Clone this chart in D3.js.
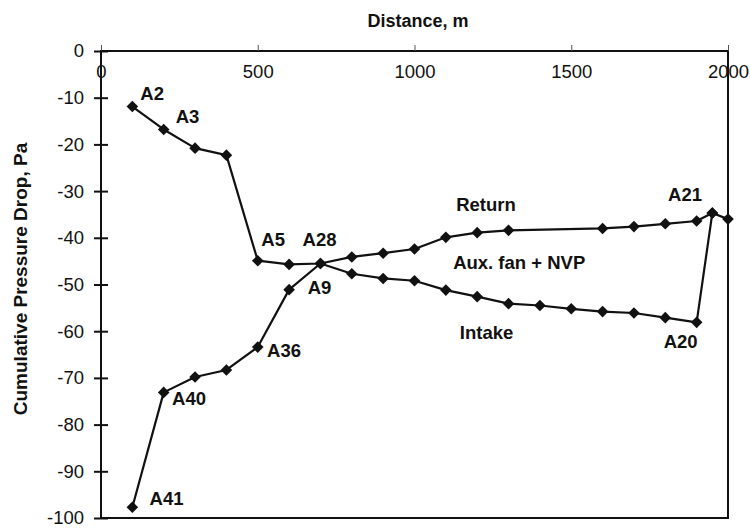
<!DOCTYPE html>
<html>
<head>
<meta charset="utf-8">
<script src="https://cdn.jsdelivr.net/npm/d3@7"></script>
<style>
  body { margin: 0; background: #fff; }
  svg { display: block; font-family: "Liberation Sans", Arial, sans-serif; }
</style>
</head>
<body>
<div class="chart"></div>
<script>
// distances (m) and cumulative pressure drop (Pa)
const intakeX = [100, 200, 300, 400, 500, 600, 700, 800, 900, 1000, 1100, 1200, 1300, 1400, 1500, 1600, 1700, 1800, 1900, 1950];
const intakeY = [-97.7, -73.1, -69.8, -68.3, -63.4, -51.1, -45.5, -47.7, -48.7, -49.2, -51.2, -52.6, -54.1, -54.5, -55.2, -55.8, -56.1, -57.1, -58.1, -34.7];
const returnX = [100, 200, 300, 400, 500, 600, 700, 800, 900, 1000, 1100, 1200, 1300, 1600, 1700, 1800, 1900, 1950, 2000];
const returnY = [-11.9, -16.8, -20.8, -22.3, -44.9, -45.7, -45.5, -44.1, -43.3, -42.4, -39.9, -38.9, -38.4, -38.0, -37.6, -37.0, -36.4, -34.7, -36.0];
const xTicks = [0, 500, 1000, 1500, 2000];
const yTicks = [0, -10, -20, -30, -40, -50, -60, -70, -80, -90, -100];
// annotations: text centre in data units
const labelText = ['A2', 'A3', 'A5', 'A28', 'A9', 'A36', 'A40', 'A41', 'Return', 'Aux. fan + NVP', 'Intake', 'A20', 'A21'];
const labelX = [163, 276, 549, 697, 697, 584, 281, 209, 1228, 1334, 1230, 1849, 1863];
const labelY = [-9.0, -14.0, -40.4, -40.4, -50.6, -64.0, -74.4, -95.8, -32.9, -45.3, -60.3, -62.2, -30.6];

const W = 750, H = 529;
const svg = d3.select('.chart').append('svg')
    .attr('width', W)
    .attr('height', H);

const x = d3.scaleLinear().domain([0, 2000]).range([101, 728]);
const y = d3.scaleLinear().domain([-100, 0]).range([518, 51]);

const ink = '#111';
const plain = d => String(d);   // hyphen minus, as in the original

// plot frame
svg.append('rect')
    .attr('x', x(0)).attr('y', y(0))
    .attr('width', x(2000) - x(0)).attr('height', y(-100) - y(0))
    .attr('fill', 'none').attr('stroke', ink).attr('stroke-width', 2);

// top axis: tick marks above the line
svg.append('g')
    .attr('transform', `translate(0,${y(0)})`)
    .call(d3.axisTop(x).tickValues(xTicks).tickSize(6).tickFormat(''))
    .call(g => g.select('.domain').remove())
    .call(g => g.selectAll('.tick line').attr('stroke', '#555').attr('stroke-width', 1));

// x labels sit under the top line
svg.append('g')
    .attr('transform', `translate(0,${y(0)})`)
    .call(d3.axisBottom(x).tickValues(xTicks).tickSize(0).tickPadding(14).tickFormat(plain))
    .call(g => g.select('.domain').remove())
    .call(g => g.selectAll('text').attr('font-size', 18.5).attr('fill', ink)
        .attr('font-family', '"Liberation Sans", Arial, sans-serif'));

// y axis with crossing ticks
svg.append('g')
    .attr('transform', `translate(${x(0)},0)`)
    .call(d3.axisLeft(y).tickValues(yTicks).tickSize(7).tickPadding(10).tickFormat(plain))
    .call(g => g.select('.domain').remove())
    .call(g => g.selectAll('.tick line').attr('x1', 7).attr('stroke', ink).attr('stroke-width', 2))
    .call(g => g.selectAll('text').attr('font-size', 18.5).attr('fill', ink)
        .attr('font-family', '"Liberation Sans", Arial, sans-serif'));

// axis titles
svg.append('text')
    .attr('x', 418).attr('y', 27)
    .attr('text-anchor', 'middle')
    .attr('font-size', 18).attr('font-weight', 'bold').attr('fill', ink)
    .text('Distance, m');

svg.append('text')
    .attr('transform', 'translate(27,279) rotate(-90)')
    .attr('text-anchor', 'middle')
    .attr('font-size', 19).attr('font-weight', 'bold').attr('fill', ink)
    .text('Cumulative Pressure Drop, Pa');

const line = d3.line().x(d => x(d[0])).y(d => y(d[1]));
const diamond = 'M0,-5.8L5.8,0L0,5.8L-5.8,0Z';

const series = [
    d3.zip(intakeX, intakeY),
    d3.zip(returnX, returnY)
];

series.forEach(pts => {
    svg.append('path')
        .datum(pts)
        .attr('fill', 'none')
        .attr('stroke', ink)
        .attr('stroke-width', 2.2)
        .attr('stroke-linejoin', 'round')
        .attr('d', line);

    svg.append('g').selectAll('path')
        .data(pts)
        .join('path')
        .attr('transform', d => `translate(${x(d[0])},${y(d[1])})`)
        .attr('d', diamond)
        .attr('fill', ink);
});

// annotations
svg.append('g').selectAll('text')
    .data(d3.zip(labelText, labelX, labelY))
    .join('text')
    .attr('x', d => x(d[1]))
    .attr('y', d => y(d[2]))
    .attr('dy', '0.36em')
    .attr('text-anchor', 'middle')
    .attr('font-size', 18.5)
    .attr('font-weight', 'bold')
    .attr('fill', ink)
    .text(d => d[0]);
</script>
</body>
</html>
